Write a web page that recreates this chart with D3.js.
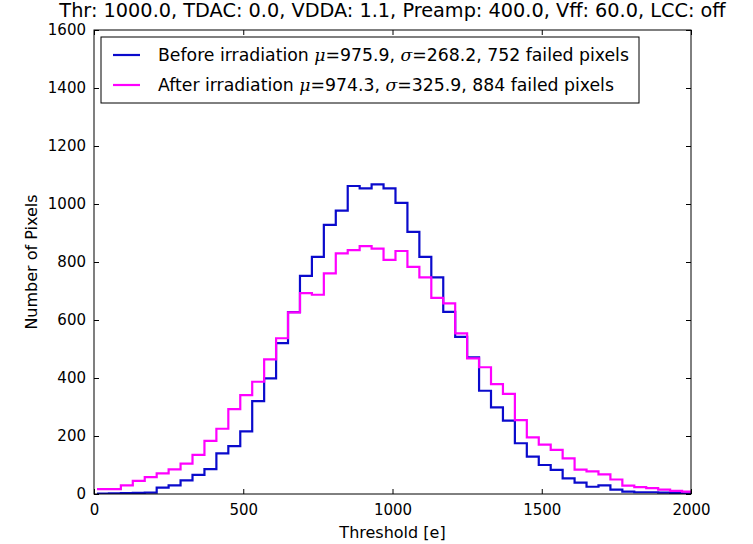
<!DOCTYPE html>
<html>
<head>
<meta charset="utf-8">
<script src="https://cdn.jsdelivr.net/npm/d3@7"></script>
<style>
  body { margin: 0; background: #fff; }
  text { font-family: 'DejaVu Sans', sans-serif; fill: #000; }
</style>
</head>
<body>
<svg id="chart" width="753" height="544"></svg>
<script>
// left edge of every bin, width 40
const binEdges = [10, 50, 90, 130, 170, 210, 250, 290, 330, 370,
  410, 450, 490, 530, 570, 610, 650, 690, 730, 770,
  810, 850, 890, 930, 970, 1010, 1050, 1090, 1130, 1170,
  1210, 1250, 1290, 1330, 1370, 1410, 1450, 1490, 1530, 1570,
  1610, 1650, 1690, 1730, 1770, 1810, 1850, 1890, 1930, 1970]
const binWidth = 40

const beforeCounts = [1, 2, 3, 4, 5, 22, 30, 47, 66, 86,
  140, 165, 216, 320, 399, 520, 627, 752, 818, 928,
  977, 1062, 1054, 1068, 1054, 1004, 904, 818, 747, 628,
  542, 471, 356, 299, 253, 175, 129, 100, 83, 54,
  39, 25, 30, 15, 8, 6, 6, 5, 3, 2]

const afterCounts = [17, 17, 30, 45, 58, 71, 85, 105, 135, 183,
  225, 293, 341, 387, 464, 537, 626, 693, 687, 761,
  830, 841, 855, 846, 807, 838, 783, 747, 676, 657,
  554, 468, 437, 379, 345, 255, 195, 170, 152, 123,
  84, 78, 68, 50, 29, 24, 20, 15, 11, 8]

const xTicks = [0, 500, 1000, 1500, 2000]
const yTicks = [0, 200, 400, 600, 800, 1000, 1200, 1400, 1600]

const series = [
  { name: 'Before irradiation', mu: '975.9', sigma: '268.2', failed: 752, counts: beforeCounts, color: '#0a0acc' },
  { name: 'After irradiation', mu: '974.3', sigma: '325.9', failed: 884, counts: afterCounts, color: '#ff00ff' }
]
const title = 'Thr: 1000.0, TDAC: 0.0, VDDA: 1.1, Preamp: 400.0, Vff: 60.0, LCC: off'

const margin = { left: 94, right: 62, top: 30, bottom: 50 }
const width = 753, height = 544
const svg = d3.select('#chart')

const x = d3.scaleLinear().domain([0, 2000]).range([margin.left, width - margin.right])
const y = d3.scaleLinear().domain([0, 1600]).range([height - margin.bottom, margin.top])

svg.append('defs').append('clipPath').attr('id', 'plotClip')
  .append('rect')
  .attr('x', x(0)).attr('y', y(1600))
  .attr('width', x(2000) - x(0)).attr('height', y(0) - y(1600))

const line = d3.line()
  .x(d => x(d[0]))
  .y(d => y(d[1]))
  .curve(d3.curveStepAfter)

const plot = svg.append('g').attr('clip-path', 'url(#plotClip)')
series.forEach(s => {
  const pts = binEdges.map((e, i) => [e, s.counts[i]])
  pts.push([binEdges[binEdges.length - 1] + binWidth, s.counts[s.counts.length - 1]])
  plot.append('path')
    .attr('d', line(pts))
    .attr('fill', 'none')
    .attr('stroke', s.color)
    .attr('stroke-width', 2.2)
})

// axes, ticks pointing inwards on all four sides
const tickLen = -5
const fmt = d3.format('d')
svg.append('g').attr('transform', `translate(0,${y(0)})`)
  .call(d3.axisBottom(x).tickValues(xTicks).tickFormat(fmt).tickSizeInner(tickLen).tickSizeOuter(0).tickPadding(10))
svg.append('g').attr('transform', `translate(0,${y(1600)})`)
  .call(d3.axisTop(x).tickValues(xTicks).tickFormat('').tickSizeInner(tickLen).tickSizeOuter(0))
svg.append('g').attr('transform', `translate(${x(0)},0)`)
  .call(d3.axisLeft(y).tickValues(yTicks).tickFormat(fmt).tickSizeInner(tickLen).tickSizeOuter(0).tickPadding(8))
svg.append('g').attr('transform', `translate(${x(2000)},0)`)
  .call(d3.axisRight(y).tickValues(yTicks).tickFormat('').tickSizeInner(tickLen).tickSizeOuter(0))

svg.selectAll('.domain').remove()
svg.selectAll('.tick line').attr('stroke', '#000')
svg.selectAll('.tick text').style('font-size', '15px').style('font-family', 'DejaVu Sans')

svg.append('rect')
  .attr('x', x(0)).attr('y', y(1600))
  .attr('width', x(2000) - x(0)).attr('height', y(0) - y(1600))
  .attr('fill', 'none').attr('stroke', '#000').attr('stroke-width', 1)

// titles
svg.append('text')
  .attr('x', (x(0) + x(2000)) / 2).attr('y', 17)
  .attr('text-anchor', 'middle').style('font-size', '19.3px')
  .text(title)
svg.append('text')
  .attr('x', (x(0) + x(2000)) / 2).attr('y', 538)
  .attr('text-anchor', 'middle').style('font-size', '16px')
  .text('Threshold [e]')
svg.append('text')
  .attr('transform', `translate(37,${(y(0) + y(1600)) / 2}) rotate(-90)`)
  .attr('text-anchor', 'middle').style('font-size', '16px')
  .text('Number of Pixels')

// legend
const legend = svg.append('g')
legend.append('rect')
  .attr('x', 101).attr('y', 37).attr('width', 538).attr('height', 66)
  .attr('fill', '#fff').attr('stroke', '#000').attr('stroke-width', 1)
series.forEach((s, i) => {
  const ly = 55 + i * 30
  legend.append('line')
    .attr('x1', 113).attr('x2', 140).attr('y1', ly).attr('y2', ly)
    .attr('stroke', s.color).attr('stroke-width', 2.2)
  const t = legend.append('text')
    .attr('x', 158).attr('y', ly).attr('dy', '0.36em')
    .style('font-size', '17.3px')
  t.append('tspan').text(s.name + ' ')
  t.append('tspan').style('font-family', 'DejaVu Serif').style('font-style', 'italic').text('\u03bc')
  t.append('tspan').text('=' + s.mu + ', ')
  t.append('tspan').style('font-family', 'DejaVu Serif').style('font-style', 'italic').text('\u03c3')
  t.append('tspan').text('=' + s.sigma + ', ' + s.failed + ' failed pixels')
})
</script>
</body>
</html>
